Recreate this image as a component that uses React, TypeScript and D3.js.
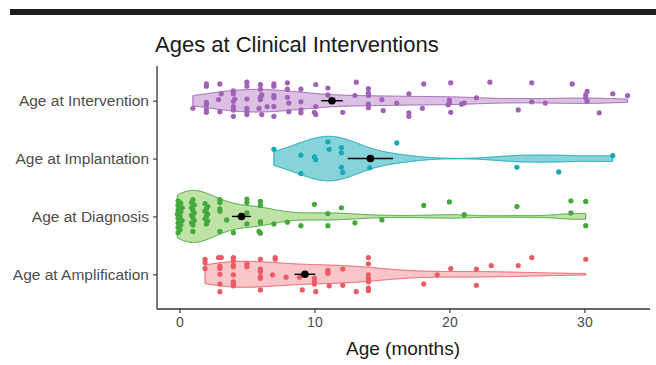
import { useRef, useEffect } from "react";
import * as d3 from "d3";

// categories, bottom to top
const categories = ["Age at Amplification", "Age at Diagnosis", "Age at Implantation", "Age at Intervention"];
const xTicks = [0, 10, 20, 30];

// [age in months, vertical jitter in category units]
const interventionPoints: [number, number][] = [
  [1.0, 0.13],
  [2.0, -0.29], [2.0, -0.25], [2.0, 0.03], [2.0, 0.07], [2.0, 0.16], [2.0, 0.2],
  [3.0, -0.29], [3.1, -0.12], [2.9, -0.02], [3.0, 0.19],
  [4.0, -0.17], [4.0, -0.12], [4.1, -0.03], [4.0, 0.01], [4.0, 0.1], [4.0, 0.16], [4.0, 0.27],
  [5.0, -0.32], [5.0, -0.25], [5.0, -0.03], [5.0, 0.13], [5.0, 0.19], [5.0, 0.24],
  [6.0, -0.28], [6.0, -0.2], [6.1, -0.1], [6.0, -0.06], [6.0, -0.02], [5.9, 0.13], [6.1, 0.24],
  [7.0, -0.29], [7.0, -0.25], [7.0, -0.09], [7.0, -0.05], [6.5, 0.1], [7.0, 0.1], [7.0, 0.27],
  [8.0, -0.31], [8.0, -0.2], [8.0, -0.06], [8.1, 0.04], [8.1, 0.19],
  [9.0, -0.2], [9.0, 0.02], [9.0, 0.16], [9.0, 0.21],
  [10.1, -0.28], [10.1, 0.1], [10.0, 0.2], [10.1, 0.24],
  [11.0, -0.22], [11.0, -0.1],
  [12.1, 0.2],
  [13.1, -0.32], [13.0, -0.09],
  [14.0, -0.21], [14.0, -0.13], [14.0, -0.09], [14.0, 0.06], [14.0, 0.12],
  [15.0, -0.02], [15.1, 0.17],
  [16.1, 0.04],
  [17.0, -0.12], [17.0, 0.21], [17.0, 0.27],
  [18.1, -0.29], [18.0, 0.13],
  [20.1, -0.31], [20.0, -0.01], [20.0, 0.04], [19.9, 0.07], [20.1, 0.2],
  [20.9, 0.06], [21.1, 0.04],
  [22.0, -0.05],
  [23.0, -0.32],
  [25.1, 0.16],
  [26.1, -0.31], [26.1, 0.02],
  [27.1, 0.04],
  [29.1, -0.29],
  [30.2, -0.16], [30.1, -0.1], [30.1, -0.05], [30.2, 0.01],
  [31.1, 0.21],
  [32.1, -0.12],
  [33.2, -0.09],
];

const implantationPoints: [number, number][] = [
  [7.0, -0.16],
  [9.0, -0.06], [9.0, 0.26],
  [10.0, -0.03], [10.1, 0.02],
  [11.0, -0.29], [11.1, -0.16],
  [12.0, -0.19], [12.0, -0.1], [12.0, 0.15], [12.1, 0.24],
  [14.1, 0.16],
  [16.1, -0.27],
  [25.0, 0.15],
  [28.1, 0.23],
  [32.1, -0.05],
];

const diagnosisPoints: [number, number][] = [
  [-0.1, -0.27], [0.1, -0.23], [-0.1, -0.19], [0.2, -0.15], [-0.1, -0.11], [0.1, -0.08], [-0.15, -0.04],
  [0.05, 0.0], [-0.1, 0.03], [0.2, 0.07], [-0.1, 0.11], [0.1, 0.15], [-0.1, 0.19], [0.05, 0.23], [-0.1, 0.28],
  [1.0, -0.29], [0.9, -0.24], [1.1, -0.2], [0.9, -0.15], [1.0, -0.11], [1.1, -0.06],
  [0.9, -0.02], [1.0, 0.02], [1.1, 0.07], [0.9, 0.11], [1.0, 0.15], [1.0, 0.26],
  [1.9, -0.22], [2.1, -0.17], [2.0, -0.13], [1.9, -0.09], [2.1, -0.04], [2.0, 0.0], [1.9, 0.04], [2.1, 0.08], [2.0, 0.13],
  [3.0, -0.29], [3.0, -0.24], [3.0, -0.13], [3.0, -0.09], [3.0, 0.26],
  [3.5, 0.06],
  [4.0, 0.28],
  [5.0, -0.3], [5.0, -0.24], [5.0, -0.06], [5.0, 0.13],
  [6.0, -0.26], [6.0, -0.19], [6.0, 0.09], [6.0, 0.11], [5.9, 0.26], [6.0, 0.29],
  [7.0, 0.13],
  [8.0, 0.1],
  [9.0, 0.16],
  [10.0, -0.21],
  [11.0, -0.05], [11.0, 0.16],
  [12.0, -0.15],
  [13.0, 0.11],
  [15.0, 0.06],
  [18.1, -0.19],
  [20.0, -0.25],
  [21.1, -0.03],
  [25.0, -0.17],
  [29.0, -0.27], [29.0, -0.06],
  [30.1, -0.26], [30.1, 0.16],
];

const amplificationPoints: [number, number][] = [
  [1.9, -0.26], [1.9, -0.2], [1.9, -0.1],
  [2.9, -0.29], [3.1, -0.29], [3.0, -0.14], [3.0, -0.1], [3.0, 0.0], [3.0, 0.17], [3.0, 0.3],
  [4.0, -0.29], [4.0, -0.24], [4.0, -0.16], [4.0, -0.13], [4.0, 0.01], [4.0, 0.13], [4.0, 0.17], [4.0, 0.2],
  [5.0, -0.18], [5.0, -0.13],
  [6.0, -0.26], [6.0, -0.09], [6.0, -0.05], [6.0, 0.04], [6.0, 0.07], [6.0, 0.27],
  [7.1, -0.29], [7.1, -0.26], [6.9, 0.01],
  [7.9, 0.05],
  [8.9, 0.05], [9.1, 0.27],
  [10.0, 0.07], [10.0, 0.13], [10.0, 0.17], [10.1, 0.3],
  [11.0, -0.07], [11.0, -0.03], [11.0, -0.02], [11.1, 0.2],
  [12.1, -0.09], [12.1, 0.19],
  [13.1, 0.3],
  [14.0, -0.29], [14.0, -0.18], [14.0, 0.01], [14.0, 0.07], [14.0, 0.13], [14.0, 0.24], [14.0, 0.28],
  [18.1, 0.17],
  [19.1, 0.01],
  [20.1, -0.1],
  [22.0, -0.09], [22.0, 0.19],
  [23.1, -0.15],
  [25.1, -0.15],
  [26.1, -0.29],
  [30.1, -0.26],
];

// mean and error bar half-length (months)
const means = [9.3, 4.6, 14.15, 11.3];
const errors = [0.77, 0.7, 1.67, 0.8];

// widest half-width of each violin (category units) and bandwidth adjust
const violinHalf = [0.225, 0.45, 0.385, 0.195];
const bwAdjust = [1, 1, 1, 0.75];

const pointColors = ["#ec5a63", "#45a83c", "#17a9b5", "#a062b6"];
const fillColors = ["#f8c6c9", "#bfe2a6", "#86d3d9", "#dcc0e4"];

const allPoints = [amplificationPoints, diagnosisPoints, implantationPoints, interventionPoints];

// R's bw.nrd0
function nrd0(v: number[]) {
  const s = [...v].sort(d3.ascending);
  const sd = d3.deviation(s) || 0;
  const iqr = (d3.quantile(s, 0.75)! - d3.quantile(s, 0.25)!) / 1.34;
  let lo = Math.min(sd, iqr);
  if (!lo) lo = sd || Math.abs(s[0]) || 1;
  return 0.9 * lo * Math.pow(s.length, -0.2);
}

function density(v: number[], adjust: number) {
  const bw = nrd0(v) * adjust;
  const [lo, hi] = d3.extent(v) as [number, number];
  const grid = d3.range(512).map(i => lo + (hi - lo) * i / 511);
  return grid.map(g => {
    const d = d3.sum(v, xi => Math.exp(-0.5 * ((g - xi) / bw) ** 2)) / (v.length * bw * Math.sqrt(2 * Math.PI));
    return [g, d] as [number, number];
  });
}

const W = 656, H = 365;
const FONT = "Liberation Sans, Arial, Helvetica, sans-serif";

export default function App() {
  const ref = useRef<SVGSVGElement>(null);

  useEffect(() => {
    const svg = d3.select(ref.current);
    svg.selectAll("*").remove();

    const x = d3.scaleLinear().domain([-1.66, 34.86]).range([157, 650]);
    const y = d3.scalePoint<string>().domain(categories).range([309, 66]).padding(0.6);
    const step = y.step();

    // top rule
    svg.append("rect").attr("x", 10).attr("y", 9).attr("width", W - 10).attr("height", 6).attr("fill", "#1d1d1d");

    svg.append("text")
      .attr("x", 155).attr("y", 52)
      .attr("font-family", FONT)
      .attr("font-size", 22).attr("fill", "#1a1a1a")
      .text("Ages at Clinical Interventions");

    // violins
    categories.forEach((c, i) => {
      const cy = y(c)!;
      const ds = density(allPoints[i].map(d => d[0]), bwAdjust[i]);
      const maxD = d3.max(ds, d => d[1])!;
      const half = violinHalf[i] * step;
      const area = d3.area<[number, number]>()
        .x(d => x(d[0]))
        .y0(d => cy - d[1] / maxD * half)
        .y1(d => cy + d[1] / maxD * half);
      svg.append("path")
        .attr("d", area(ds)! + "Z")
        .attr("fill", fillColors[i])
        .attr("stroke", pointColors[i])
        .attr("stroke-width", 1);
    });

    // jittered points
    categories.forEach((c, i) => {
      const cy = y(c)!;
      svg.append("g").selectAll("circle")
        .data(allPoints[i])
        .join("circle")
        .attr("cx", d => x(d[0]))
        .attr("cy", d => cy + d[1] * step)
        .attr("r", 2.6)
        .attr("fill", pointColors[i]);
    });

    // mean +/- error
    categories.forEach((c, i) => {
      const cy = y(c)!;
      svg.append("line")
        .attr("x1", x(means[i] - errors[i])).attr("x2", x(means[i] + errors[i]))
        .attr("y1", cy).attr("y2", cy)
        .attr("stroke", "#000").attr("stroke-width", 1.4);
      svg.append("circle")
        .attr("cx", x(means[i])).attr("cy", cy).attr("r", 3.8).attr("fill", "#000");
    });

    // axes
    const xAxis = svg.append("g").attr("transform", "translate(0,309)")
      .call(d3.axisBottom(x).tickValues(xTicks).tickSize(4).tickPadding(4));
    const yAxis = svg.append("g").attr("transform", "translate(157,0)")
      .call(d3.axisLeft(y).tickSize(4).tickPadding(4));

    [xAxis, yAxis].forEach(a => {
      a.select(".domain").attr("stroke", "#333").attr("stroke-width", 1.3);
      a.selectAll(".tick line").attr("stroke", "#333").attr("stroke-width", 1.1);
      a.selectAll(".tick text")
        .attr("fill", "#4d4d4d")
        .attr("font-family", FONT);
    });
    yAxis.selectAll(".tick text").attr("font-size", 15.5);
    xAxis.selectAll(".tick text").attr("font-size", 14);
    xAxis.select(".domain").attr("d", "M157,0H650");
    yAxis.select(".domain").attr("d", "M0,309V66");

    svg.append("text")
      .attr("x", 403).attr("y", 355)
      .attr("text-anchor", "middle")
      .attr("font-family", FONT)
      .attr("font-size", 19).attr("fill", "#1a1a1a")
      .text("Age (months)");
  }, []);

  return (
    <svg ref={ref} width={W} height={H}
      style={{ position: "absolute", left: 0, top: 0, background: "#fff" }} />
  );
}
